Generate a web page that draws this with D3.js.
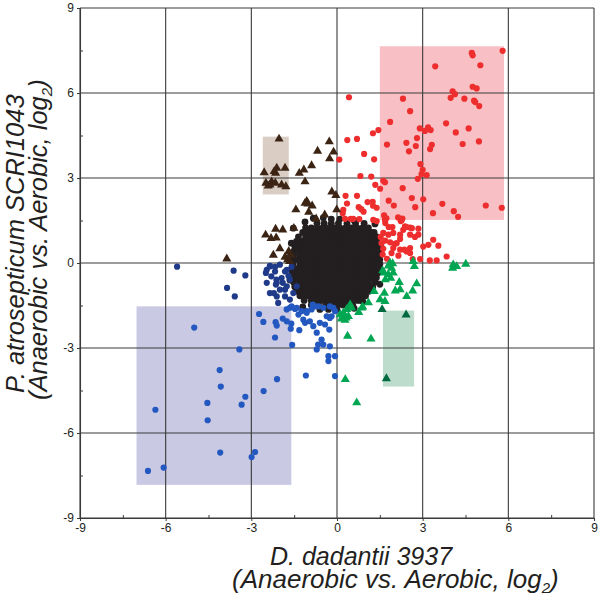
<!DOCTYPE html>
<html>
<head>
<meta charset="utf-8">
<script src="https://cdn.jsdelivr.net/npm/d3@7"></script>
<style>
  html, body { margin: 0; padding: 0; background: #ffffff; }
  svg { display: block; }
  text { font-family: "Liberation Sans", Arial, Helvetica, sans-serif; fill: #231f20; }
</style>
</head>
<body>
<script>
// ---------------- DATA ----------------
const majorTicks = [-9, -6, -3, 0, 3, 6, 9];
const minorTicks = [-7.5, -4.5, -1.5, 1.5, 4.5, 7.5];
const tickLabels = ["-9", "-6", "-3", "0", "3", "6", "9"];

const xTitle1 = "D. dadantii 3937";
const xTitle2 = "(Anaerobic vs. Aerobic, log";
const yTitle1 = "P. atrosepticum SCRI1043";
const yTitle2 = "(Anaerobic vs. Aerobic, log";

// shaded boxes: [x0, x1, y0, y1]
const boxRed   = [1.5, 5.85, 1.52, 7.65];
const boxBrown = [-2.6, -1.69, 2.42, 4.46];
const boxBlue  = [-7.02, -1.6, -7.83, -1.53];
const boxGreen = [1.61, 2.7, -4.36, -1.68];

// black core: rows of [y, [x values]]
const blackRows = [
  [1.40, [-0.7,-0.45,-0.2,0.05,0.35,0.65,0.95]],
  [1.24, [-1.1,-0.9,-0.7,-0.5,-0.3,-0.1,0.1,0.3,0.5,0.7,0.9,1.1]],
  [1.08, [-1.2,-1.0,-0.8,-0.6,-0.4,-0.2,0,0.2,0.4,0.6,0.8,1.0,1.2,1.3]],
  [0.92, [-1.35,-1.1,-0.9,-0.7,-0.5,-0.3,-0.1,0.1,0.3,0.5,0.7,0.9,1.1,1.3,1.4]],
  [0.76, [-1.42,-1.2,-1.0,-0.8,-0.6,-0.4,-0.2,0,0.2,0.4,0.6,0.8,1.0,1.2,1.4]],
  [0.60, [-1.48,-1.3,-1.1,-0.9,-0.7,-0.5,-0.3,-0.1,0.1,0.3,0.5,0.7,0.9,1.1,1.3,1.45]],
  [0.44, [-1.5,-1.4,-1.2,-1.0,-0.8,-0.6,-0.4,-0.2,0,0.2,0.4,0.6,0.8,1.0,1.2,1.4,1.47]],
  [0.28, [-1.52,-1.3,-1.1,-0.9,-0.7,-0.5,-0.3,-0.1,0.1,0.3,0.5,0.7,0.9,1.1,1.3,1.48]],
  [0.12, [-1.55,-1.4,-1.2,-1.0,-0.8,-0.6,-0.4,-0.2,0,0.2,0.4,0.6,0.8,1.0,1.2,1.4,1.5]],
  [-0.04, [-1.55,-1.3,-1.1,-0.9,-0.7,-0.5,-0.3,-0.1,0.1,0.3,0.5,0.7,0.9,1.1,1.3,1.5]],
  [-0.20, [-1.58,-1.4,-1.2,-1.0,-0.8,-0.6,-0.4,-0.2,0,0.2,0.4,0.6,0.8,1.0,1.2,1.4,1.46]],
  [-0.36, [-1.58,-1.5,-1.3,-1.1,-0.9,-0.7,-0.5,-0.3,-0.1,0.1,0.3,0.5,0.7,0.9,1.1,1.3,1.42]],
  [-0.52, [-1.55,-1.4,-1.2,-1.0,-0.8,-0.6,-0.4,-0.2,0,0.2,0.4,0.6,0.8,1.0,1.2,1.38]],
  [-0.68, [-1.52,-1.3,-1.1,-0.9,-0.7,-0.5,-0.3,-0.1,0.1,0.3,0.5,0.7,0.9,1.1,1.32]],
  [-0.84, [-1.48,-1.4,-1.2,-1.0,-0.8,-0.6,-0.4,-0.2,0,0.2,0.4,0.6,0.8,1.0,1.2,1.25]],
  [-1.00, [-1.4,-1.3,-1.1,-0.9,-0.7,-0.5,-0.3,-0.1,0.1,0.3,0.5,0.7,0.9,1.12]],
  [-1.16, [-1.3,-1.2,-1.0,-0.8,-0.6,-0.4,-0.2,0,0.2,0.4,0.6,0.8,1.0]],
  [-1.32, [-1.15,-0.9,-0.7,-0.5,-0.3,-0.1,0.1,0.3,0.5,0.7,0.8]],
  [-1.48, [-0.9,-0.65,-0.4,-0.2,0,0.2,0.4,0.55]],
  [-1.64, [-0.6,-0.3,0.0]]
];
const blackExtra = [[-1.12,1.45],[-1.53,1.23],[-1.6,0.7],[-0.83,1.58],[-0.48,1.6],[1.33,1.38],[1.55,0.55],
  [1.58,-0.3],[1.5,-0.75],[-1.65,-0.6],[-1.68,0.2],[0.6,-1.6],[0.9,-1.35],[-1.2,-1.55],[-0.2,1.55],
  [0.1,1.55],[0.6,1.5],[-1.30,0.76],[1.27,0.88]];

const redPts = [[5.80,7.49],[4.72,7.42],[4.75,7.33],[5.02,6.98],[3.44,6.94],[4.05,6.06],[4.13,5.96],[4.75,6.22],
  [4.89,6.16],[3.98,5.83],[4.46,5.80],[4.80,5.73],[4.84,5.68],[4.98,5.54],[2.31,5.80],[2.56,5.36],[1.86,4.98],
  [3.82,4.93],[4.61,4.75],[4.16,4.61],[2.90,4.75],[3.08,4.66],[3.19,4.79],[3.28,4.69],[2.80,4.41],[2.43,4.24],
  [2.76,4.13],[1.75,4.18],[3.32,4.17],[3.26,4.02],[4.40,4.20],[4.97,4.29],[2.52,3.94],[2.92,3.49],[3.00,3.29],
  [2.96,3.14],[3.14,3.10],[2.83,2.97],[2.30,2.64],[1.68,2.85],[1.34,2.76],[1.51,2.62],[1.30,3.66],[1.45,4.69],
  [1.26,4.58],[1.20,3.05],[1.81,2.20],[1.99,2.03],[2.62,2.29],[2.74,1.97],[3.02,2.25],[3.69,2.09],[3.36,1.76],
  [4.09,1.83],[4.24,1.63],[5.21,2.03],[5.77,1.95],[1.25,2.16],[1.39,1.95],[1.65,1.68],[1.68,1.52],[2.14,1.61],
  [2.29,1.57],[2.23,1.48],[2.38,1.29],[2.56,1.25],[2.85,1.21],[1.81,1.27],[1.94,1.27],
  [0.42,5.85],[0.36,4.34],[0.70,4.38],[0.95,3.85],[0.08,3.65],[0.82,3.07],[1.62,2.90],[0.30,2.37],[0.70,2.37],
  [0.35,2.10],[1.07,2.15],[1.26,2.02],[0.76,1.97],[0.85,1.90],[0.93,1.81],[0.22,1.88],[0.20,1.76],[0.28,1.56],
  [0.48,1.56],[0.57,1.56],[0.78,1.55],[1.39,1.48],[1.27,1.52],[1.73,1.58],[1.69,1.41],[2.27,1.52],[2.44,1.27],
  [2.62,1.23],[2.32,1.17],[1.62,1.06],[1.80,1.00],[1.97,1.06],[1.53,0.92],[1.69,0.79],[1.86,0.73],[2.03,0.68],
  [2.21,0.85],[2.36,0.47],[2.56,0.53],[2.73,0.92],[3.02,0.58],[2.21,1.00],[2.56,1.00],[2.85,1.00],[1.56,0.70],
  [2.09,0.70],[1.97,0.53],[2.21,0.47],[2.44,0.41],[1.91,0.35],[2.15,0.26],[2.56,0.35],[3.20,0.64],[3.37,0.82],
  [3.55,0.61],[3.84,0.23],[3.25,0.09],[3.49,0.09],[2.91,0.14],[2.65,0.14],[1.60,0.30],[1.75,0.15],[1.62,0.50]];

const brownPts = [[-2.03,4.38],[-2.55,3.19],[-2.11,3.35],[-2.20,3.23],[-2.15,3.17],[-1.82,3.35],[-2.49,2.82],
  [-2.35,2.76],[-2.29,2.87],[-2.16,2.82],[-1.94,2.76],[-1.79,2.70],[-2.41,2.72],[-0.27,4.28],[-0.68,3.95],
  [-0.12,3.92],[-0.26,3.68],[-0.89,3.44],[-1.16,3.29],[-1.32,3.17],[-1.12,2.87],[-0.18,2.51],[-0.04,2.39],
  [-1.06,2.18],[-1.12,2.11],[-1.02,2.09],[-1.44,1.88],[-0.87,2.02],[-0.99,1.80],[-0.43,1.70],[-0.73,1.56],
  [-0.01,1.88],[-1.90,1.17],[-2.15,1.20],[-1.51,1.23],[-2.50,0.99],[-2.31,0.87],[-2.13,0.89],[-2.00,0.51],
  [-2.23,0.28],[-1.82,0.21],[-1.69,0.41],[-1.61,0.29],[-1.73,0.12],[-1.66,0.06],[-3.86,0.15]];

const blueDark = [[-5.60,-0.13],[-3.62,-0.27],[-3.21,-0.44],[-3.85,-0.88],[-3.58,-1.18],[-2.49,-0.35],[-2.35,-0.12],
  [-2.17,-0.30],[-2.46,-0.70],[-2.11,-0.70],[-1.94,-0.53],[-1.76,-0.24],[-2.35,-1.06],[-2.11,-1.18],[-1.82,-0.94],
  [-1.65,-1.29],[-1.41,-0.82],[-2.06,-1.41],[-2.46,-0.24],[-2.35,-0.10],[-2.17,-0.14],[-2.00,-0.06],[-1.82,-0.30],
  [-1.59,-0.14],[-2.30,-0.47],[-2.12,-0.59],[-2.14,-0.76],[-2.00,-0.94],[-1.76,-0.82],[-1.65,-0.59],[-2.21,-1.06],
  [-1.82,-1.18],[-1.53,-1.06],[-1.70,-0.45],[-1.90,-0.70]];

const blueLight = [[-2.73,-1.80],[-2.58,-2.08],[-2.15,-2.09],[-2.11,-2.21],[-1.90,-1.96],[-1.76,-2.06],[-1.60,-2.14],
  [-1.62,-2.32],[-2.17,-2.63],[-1.57,-2.89],[-1.76,-1.64],[-1.65,-1.58],[-1.47,-1.62],[-1.35,-1.82],[-1.32,-2.37],
  [-5.00,-2.28],[-3.42,-3.05],[-4.11,-3.78],[-4.07,-4.36],[-2.10,-4.10],[-2.57,-4.52],[-3.21,-4.72],[-3.34,-5.00],
  [-4.54,-4.94],[-4.53,-5.55],[-6.36,-5.18],[-4.09,-6.69],[-2.87,-6.67],[-2.99,-6.85],[-6.07,-7.22],[-6.62,-7.34],
  [-0.77,-1.53],[-1.06,-1.70],[-1.18,-2.00],[-0.95,-2.06],[-1.12,-2.11],[-0.83,-2.23],[-0.60,-2.11],[-0.42,-2.17],
  [-0.25,-1.94],[-0.71,-2.46],[-0.54,-2.70],[-0.66,-2.88],[-0.48,-2.88],[-0.25,-2.94],[-0.71,-3.05],[-0.30,-3.29],
  [-0.30,-3.46],[-0.07,-3.29],[-0.07,-3.99],[-1.09,-3.97],[-0.85,-1.47],[-0.13,-1.58],[-0.27,-2.35],[-1.59,-1.53],
  [-1.41,-1.58],[-1.24,-1.70],[-1.06,-1.76],[-0.89,-1.64],[-0.65,-1.53],[-0.48,-1.58],[-0.25,-1.53],[-0.36,-1.88],
  [-0.19,-1.88],[-0.07,-1.70]];

const greenPts = [[1.86,0.00],[1.95,-0.02],[1.80,-0.10],[1.91,-0.18],[2.67,0.06],[2.71,-0.12],[4.07,-0.06],[4.19,-0.12],
  [4.51,-0.04],[4.05,-0.18],[1.60,-0.27],[1.65,-0.35],[1.80,-0.41],[1.97,-0.35],[1.69,-0.59],[1.88,-0.53],
  [2.18,-0.68],[2.79,-0.73],[2.04,-0.98],[2.21,-0.94],[2.65,-0.98],[2.44,-1.18],[1.66,-1.06],[1.68,-1.35],
  [1.51,-1.29],[0.90,-1.55],[0.76,-1.74],[0.46,-1.47],[0.51,-1.58],[0.34,-1.64],[0.22,-1.76],[0.11,-1.82],
  [0.20,-1.90],[0.32,-1.94],[0.40,-1.88],[0.28,-2.02],[0.16,-1.97],[0.37,-2.58],[1.19,-2.68],[0.29,-4.11],
  [0.69,-4.93],[0.87,-1.58],[1.30,-1.00],[1.10,-1.40]];
const greenDark = [[1.58,-1.64],[2.42,-1.83],[1.73,-4.08]];

// ---------------- CHART ----------------
const W = 600, H = 605;
const svg = d3.select("body").append("svg").attr("width", W).attr("height", H);

const x = d3.scaleLinear().domain([-9, 9]).range([80, 594]);
const y = d3.scaleLinear().domain([-9, 9]).range([518, 8]);

// shaded boxes
const boxes = [
  {b: boxRed, c: "#f8c0c5"},
  {b: boxBrown, c: "#d9cdc4"},
  {b: boxBlue, c: "#c9c9e4"},
  {b: boxGreen, c: "#bedccc"}
];
svg.append("g").selectAll("rect").data(boxes).join("rect")
  .attr("x", d => x(d.b[0])).attr("width", d => x(d.b[1]) - x(d.b[0]))
  .attr("y", d => y(d.b[3])).attr("height", d => y(d.b[2]) - y(d.b[3]))
  .attr("fill", d => d.c);

// grid
const grid = svg.append("g").attr("stroke", "#3a3a3a").attr("stroke-width", 1.1);
grid.selectAll("line.v").data(majorTicks).join("line").attr("class", "v")
  .attr("x1", d => x(d)).attr("x2", d => x(d)).attr("y1", y(9)).attr("y2", y(-9));
grid.selectAll("line.h").data(majorTicks).join("line").attr("class", "h")
  .attr("y1", d => y(d)).attr("y2", d => y(d)).attr("x1", x(-9)).attr("x2", x(9));

// axes
const fmt = d => tickLabels[majorTicks.indexOf(d)];
const xAxis = svg.append("g").attr("transform", `translate(0,${y(-9)})`)
  .call(d3.axisBottom(x).tickValues(majorTicks).tickFormat(fmt).tickSize(3).tickPadding(2));
const yAxis = svg.append("g").attr("transform", `translate(${x(-9)},0)`)
  .call(d3.axisLeft(y).tickValues(majorTicks).tickFormat(fmt).tickSize(3).tickPadding(3));
[xAxis, yAxis].forEach(g => {
  g.select(".domain").attr("stroke", "#3a3a3a").attr("stroke-width", 1.1);
  g.selectAll(".tick line").attr("stroke", "#3a3a3a");
  g.selectAll(".tick text").attr("font-size", 12).attr("fill", "#231f20")
    .attr("font-family", "'Liberation Sans', Arial, sans-serif");
});
// minor ticks (inward)
svg.append("g").attr("transform", `translate(0,${y(-9)})`)
  .call(d3.axisTop(x).tickValues(minorTicks).tickFormat("").tickSize(3))
  .call(g => { g.select(".domain").remove(); g.selectAll("line").attr("stroke", "#3a3a3a"); });
svg.append("g").attr("transform", `translate(${x(-9)},0)`)
  .call(d3.axisRight(y).tickValues(minorTicks).tickFormat("").tickSize(3))
  .call(g => { g.select(".domain").remove(); g.selectAll("line").attr("stroke", "#3a3a3a"); });

// points
const blackPts = blackRows.flatMap(([yy, xs]) => xs.map(xx => [xx, yy])).concat(blackExtra);
function dots(data, color, r) {
  svg.append("g").selectAll("circle").data(data).join("circle")
    .attr("cx", d => x(d[0])).attr("cy", d => y(d[1])).attr("r", r).attr("fill", color);
}
const tri = d3.symbol().type(d3.symbolTriangle).size(36);
function tris(data, color) {
  svg.append("g").selectAll("path").data(data).join("path")
    .attr("transform", d => `translate(${x(d[0])},${y(d[1])})`)
    .attr("d", tri).attr("fill", color);
}
dots(blackPts, "#231f20", 3.4);
dots(blueDark, "#203a8a", 3.1);
dots(blueLight, "#2358c0", 3.1);
dots(redPts, "#ee2e2e", 3.1);
tris(brownPts, "#3c2415");
tris(greenPts, "#00a651");
tris(greenDark, "#00693e");

// axis titles
const xt = svg.append("g").attr("font-style", "italic");
xt.append("text").attr("font-size", 25).attr("x", 270).attr("y", 565).text(xTitle1);
const xl2 = xt.append("text").attr("font-size", 26).attr("x", 232).attr("y", 588).text(xTitle2);
xl2.append("tspan").attr("font-size", 15).attr("dy", 5).text("2");
xl2.append("tspan").attr("dy", -5).text(")");

const yt = svg.append("g").attr("font-style", "italic").attr("font-size", 25.5);
yt.append("text").attr("transform", "translate(23.5,393) rotate(-90)").text(yTitle1);
const yl2 = yt.append("text").attr("transform", "translate(47,400) rotate(-90)").text(yTitle2);
yl2.append("tspan").attr("font-size", 15).attr("dy", 5).text("2");
yl2.append("tspan").attr("dy", -5).text(")");
</script>
</body>
</html>
